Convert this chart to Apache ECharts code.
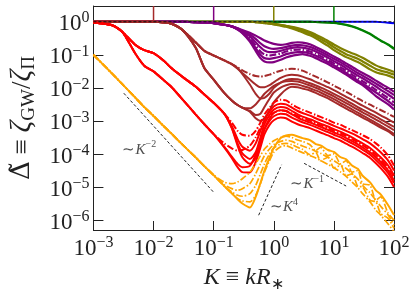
<!DOCTYPE html>
<html><head><meta charset="utf-8">
<script src="https://cdn.jsdelivr.net/npm/echarts@6/dist/echarts.min.js"></script>
<style>html,body{margin:0;padding:0;background:#fff}#c{width:416px;height:298px}</style>
</head><body><div id="c"></div>
<script>
// Shared K grid (K = k R_*)
const kGrid = [0.001,0.002,0.003,0.005,0.007,0.01,0.015,0.02,0.03,0.05,0.07,0.1,0.15,0.2,0.25,0.3,0.4,0.5,0.6,0.7,0.85,1,1.3,1.6,2,2.5,3,4,5,6,8,10,13,16,20,25,30,40,50,60,80,100];
// Values below are log10(Delta), one per kGrid point (segments joined by index)
const blueExp = [0,0,0,0,0,0,0,0,0,0,0,0,0,0,0,0,0,0,0,0,0,0,0,0,0,0,0,0,0,0,0,0,0,0,0,0,0,0,0,-0.01,-0.03,-0.05];
const greenFlat = [0,0,0,0,0,0,0,0,0,0,0,0,0,0,0,0,0,0,0,0,0,0,0,0,0,0,0,0];
const green1Tail = [-0.01,-0.015,-0.02,-0.03,-0.06,-0.09,-0.13,-0.19,-0.25,-0.36,-0.47,-0.56,-0.68,-0.8];
const green2Tail = [-0.01,-0.02,-0.03,-0.04,-0.07,-0.1,-0.15,-0.21,-0.27,-0.38,-0.49,-0.58,-0.7,-0.83];
const oliveFlat = [0,0,0,0,0,0,0,0,0,0,0,0,0,0,0,0,0];
const olive1Tail = [-0.01,-0.02,-0.03,-0.04,-0.06,-0.09,-0.12,-0.15,-0.19,-0.23,-0.31,-0.39,-0.46,-0.58,-0.69,-0.8,-0.88,-0.95,-1.02,-1.09,-1.22,-1.32,-1.38,-1.45,-1.52];
const olive2Tail = [-0.01,-0.02,-0.03,-0.05,-0.07,-0.1,-0.13,-0.17,-0.22,-0.27,-0.35,-0.44,-0.52,-0.65,-0.77,-0.89,-0.98,-1.05,-1.12,-1.2,-1.33,-1.43,-1.48,-1.54,-1.6];
const olive3Tail = [-0.01,-0.02,-0.04,-0.06,-0.08,-0.12,-0.15,-0.2,-0.26,-0.32,-0.41,-0.5,-0.59,-0.73,-0.86,-0.98,-1.07,-1.14,-1.22,-1.3,-1.44,-1.53,-1.57,-1.63,-1.7];
const purpleTrunk = [0,0,0,0,0,0,0,0,0,-0.01,-0.02,-0.04,-0.09,-0.14];
const purple1Tail = [-0.2,-0.25,-0.33,-0.42,-0.5,-0.57,-0.63,-0.67,-0.7,-0.68,-0.64,-0.62,-0.63,-0.68,-0.76,-0.83,-0.95,-1.05,-1.16,-1.26,-1.36,-1.47,-1.55,-1.67,-1.78,-1.87,-2.0,-2.12];
const purple2Tail = [-0.2,-0.27,-0.38,-0.52,-0.65,-0.74,-0.8,-0.82,-0.8,-0.76,-0.72,-0.7,-0.71,-0.76,-0.83,-0.9,-1.02,-1.12,-1.23,-1.33,-1.44,-1.55,-1.63,-1.76,-1.87,-1.96,-2.1,-2.22];
const purple3Tail = [-0.21,-0.29,-0.44,-0.62,-0.77,-0.87,-0.92,-0.92,-0.88,-0.83,-0.79,-0.77,-0.78,-0.83,-0.9,-0.97,-1.09,-1.19,-1.3,-1.41,-1.52,-1.63,-1.71,-1.85,-1.96,-2.06,-2.2,-2.33];
const purple4Tail = [-0.22,-0.31,-0.5,-0.72,-0.9,-0.99,-1.02,-1.0,-0.96,-0.9,-0.86,-0.84,-0.85,-0.9,-0.97,-1.04,-1.16,-1.26,-1.38,-1.48,-1.6,-1.71,-1.8,-1.94,-2.06,-2.16,-2.31,-2.44];
const purple5Tail = [-0.23,-0.33,-0.55,-0.8,-1.0,-1.1,-1.12,-1.1,-1.05,-0.98,-0.94,-0.92,-0.92,-0.96,-1.03,-1.1,-1.22,-1.32,-1.44,-1.55,-1.67,-1.78,-1.87,-2.02,-2.14,-2.24,-2.4,-2.54];
const purple6Tail = [-0.24,-0.35,-0.6,-0.88,-1.1,-1.2,-1.23,-1.22,-1.15,-1.08,-1.03,-1.0,-0.98,-1.03,-1.1,-1.17,-1.28,-1.38,-1.5,-1.6,-1.72,-1.83,-1.92,-2.1,-2.25,-2.35,-2.5,-2.65];
const brownTrunk = [0,0,0,0,0,0,-0.02,-0.06,-0.24];
const brownUpper = [-0.62,-0.88,-1.02,-1.17,-1.28];
const brownLower = [-0.78,-1.4,-1.75,-2.15,-2.38,-2.52,-2.6];
const brown1Tail = [-1.38,-1.47,-1.58,-1.64,-1.66,-1.64,-1.6,-1.55,-1.48,-1.44,-1.42,-1.44,-1.48,-1.58,-1.66,-1.73,-1.84,-1.93,-2.04,-2.12,-2.22,-2.32,-2.4,-2.51,-2.6,-2.67,-2.78,-2.88];
const brown2Tail = [-1.42,-1.55,-1.75,-1.9,-1.98,-1.98,-1.92,-1.83,-1.7,-1.63,-1.6,-1.62,-1.66,-1.74,-1.82,-1.88,-1.98,-2.07,-2.18,-2.27,-2.36,-2.46,-2.54,-2.66,-2.75,-2.83,-2.95,-3.05];
const brown3Tail = [-1.4,-1.58,-1.9,-2.18,-2.32,-2.3,-2.17,-2.0,-1.84,-1.76,-1.73,-1.74,-1.78,-1.86,-1.93,-1.99,-2.09,-2.18,-2.29,-2.38,-2.48,-2.58,-2.66,-2.78,-2.87,-2.95,-3.08,-3.18];
const brown4Tail = [-2.62,-2.5,-2.33,-2.18,-2.04,-1.94,-1.84,-1.8,-1.79,-1.81,-1.85,-1.93,-2.0,-2.06,-2.17,-2.26,-2.37,-2.46,-2.56,-2.66,-2.74,-2.86,-2.96,-3.04,-3.17,-3.28];
const brown5Tail = [-2.7,-2.82,-2.78,-2.58,-2.33,-2.14,-1.99,-1.92,-1.88,-1.9,-1.94,-2.01,-2.08,-2.14,-2.25,-2.34,-2.46,-2.55,-2.65,-2.75,-2.83,-2.96,-3.06,-3.14,-3.28,-3.4];
const brown6Tail = [-2.72,-2.92,-3.0,-2.92,-2.68,-2.44,-2.2,-2.05,-1.97,-1.98,-2.02,-2.08,-2.15,-2.22,-2.32,-2.42,-2.54,-2.63,-2.72,-2.82,-2.9,-3.02,-3.12,-3.2,-3.32,-3.45];
const redTrunk = [-0.02,-0.1,-0.3];
const redUpper = [-0.7,-0.86,-0.95,-1.19,-1.41,-1.66,-1.96,-2.2,-2.45,-2.78];
const redLower = [-0.97,-1.33,-1.5,-1.78,-1.98,-2.34,-2.8,-3.1,-3.4];
const red1Tail = [-3.05,-3.3,-3.42,-3.45,-3.3,-3.05,-2.8,-2.6,-2.45,-2.36,-2.38,-2.5,-2.6,-2.66,-2.75,-2.82,-2.88,-2.97,-3.05,-3.12,-3.2,-3.28,-3.36,-3.43,-3.55,-3.68,-3.8,-4.05,-4.35];
const red2Tail = [-3.15,-3.55,-3.78,-3.9,-3.68,-3.3,-2.98,-2.72,-2.56,-2.48,-2.5,-2.6,-2.7,-2.76,-2.84,-2.92,-2.98,-3.07,-3.15,-3.23,-3.3,-3.38,-3.47,-3.55,-3.68,-3.82,-3.95,-4.2,-4.5];
const red3Tail = [-3.2,-3.68,-3.98,-4.15,-3.95,-3.5,-3.1,-2.82,-2.66,-2.58,-2.6,-2.7,-2.8,-2.87,-2.95,-3.02,-3.08,-3.17,-3.25,-3.33,-3.41,-3.5,-3.6,-3.68,-3.82,-3.97,-4.1,-4.35,-4.65];
const red4Tail = [-3.22,-3.75,-4.1,-4.3,-4.12,-3.68,-3.25,-2.93,-2.76,-2.68,-2.7,-2.8,-2.9,-2.97,-3.05,-3.12,-3.18,-3.27,-3.35,-3.43,-3.52,-3.61,-3.71,-3.8,-3.95,-4.1,-4.24,-4.5,-4.8];
const red5Tail = [-3.68,-3.83,-3.9,-3.88,-3.75,-3.5,-3.2,-3.0,-2.85,-2.75,-2.68,-2.7,-2.78,-2.86,-2.92,-3.0,-3.07,-3.13,-3.22,-3.3,-3.38,-3.46,-3.55,-3.65,-3.73,-3.88,-4.03,-4.17,-4.42,-4.7];
const red6Tail = [-3.78,-4.08,-4.3,-4.4,-4.36,-4.02,-3.6,-3.25,-3.0,-2.86,-2.78,-2.8,-2.9,-2.98,-3.04,-3.12,-3.19,-3.25,-3.34,-3.42,-3.5,-3.59,-3.68,-3.78,-3.87,-4.02,-4.18,-4.32,-4.58,-4.88];
const red7Tail = [-3.8,-4.12,-4.4,-4.55,-4.56,-4.25,-3.8,-3.4,-3.12,-2.98,-2.9,-2.92,-3.02,-3.1,-3.15,-3.22,-3.29,-3.35,-3.44,-3.52,-3.6,-3.69,-3.78,-3.88,-3.97,-4.12,-4.28,-4.43,-4.7,-5.0];
const orangeSolid = [-1.0,-1.55,-1.88,-2.3,-2.58,-2.85,-3.17,-3.39,-3.71,-4.1,-4.37,-4.64,-4.97,-5.19,-5.37,-5.5,-5.62,-5.3,-4.88,-4.5,-4.12,-3.82,-3.52,-3.44,-3.42,-3.47,-3.52,-3.58,-3.7,-3.74,-3.88,-3.94,-4.1,-4.16,-4.35,-4.45,-4.66,-4.86,-5.1,-5.22,-5.55,-5.85];
const orange2Tail = [-4.85,-4.9,-4.85,-4.75,-4.55,-4.3,-4.05,-3.85,-3.7,-3.6,-3.5,-3.46,-3.5,-3.58,-3.62,-3.72,-3.9,-3.8,-4.05,-4.0,-4.3,-4.2,-4.55,-4.5,-4.9,-4.95,-5.4,-5.3,-5.8,-6.0];
const orange3Tail = [-4.93,-5.05,-5.1,-5.05,-4.9,-4.6,-4.3,-4.05,-3.85,-3.72,-3.62,-3.58,-3.62,-3.7,-3.76,-3.84,-3.92,-3.98,-4.1,-4.2,-4.34,-4.44,-4.6,-4.76,-4.95,-5.18,-5.4,-5.58,-5.85,-6.15];
const orange4Tail = [-5.15,-5.25,-5.28,-5.2,-4.95,-4.6,-4.3,-4.0,-3.82,-3.7,-3.68,-3.72,-3.8,-3.86,-4.02,-3.96,-4.2,-4.1,-4.42,-4.35,-4.66,-4.6,-4.98,-5.0,-5.4,-5.45,-5.8,-5.95,-6.25];
const orange5Tail = [-5.35,-5.42,-5.45,-5.25,-4.9,-4.55,-4.2,-3.95,-3.78,-3.75,-3.82,-3.9,-3.96,-4.05,-4.12,-4.2,-4.32,-4.42,-4.55,-4.68,-4.85,-5.02,-5.2,-5.45,-5.7,-5.85,-6.12,-6.35];
// Guide lines [K start, K end] and [Delta start, Delta end]
const guideM2K = [0.0032, 0.098], guideM2D = [6.9e-3, 7.2e-6];
const guideP4K = [0.56, 1.35], guideP4D = [1.4e-6, 4.7e-5];
const guideM1K = [3.2, 16], guideM1D = [5.2e-5, 1.07e-5];
const unityK = [0.001, 100], unityD = [1, 1];
// Coloured markers at top (K positions)
const markerK = [0.01, 0.1, 1, 10];
const markerColors = ['#a52a2a', '#800080', '#808000', '#008000'];
// Annotation labels
const annTexts = ['{t|∼}{i|K}{s|−2}', '{t|∼}{i|K}{s|4}', '{t|∼}{i|K}{s|−1}'];
const annK = [0.0058, 1.48, 3.6];
const annD = [1.35e-4, 2.4e-6, 1.23e-5];
// Axis ranges
const xRange = [0.001, 100];
const yRange = [5e-7, 3];

const C = {orange:'#ffa500', red:'#ff0000', brown:'#a52a2a', purple:'#800080', olive:'#808000', green:'#008000', blue:'#0000ff'};
const DASHDOT = [7, 2, 1.5, 2];
const FONT = 'Liberation Serif';

function curve(exps, color, width, dash) {
  const data = [];
  kGrid.forEach((k, i) => { if (exps[i] != null) data.push([k, Math.pow(10, exps[i])]); });
  return {type:'line', data, showSymbol:false, symbol:'none', smooth:0.25, silent:true, animation:false, clip:true,
    lineStyle:{color, width, type: dash || 'solid'}};
}
function seg(xs, ys, style) {
  return {type:'line', data:[[xs[0], ys[0]], [xs[1], ys[1]]], showSymbol:false, symbol:'none', silent:true, animation:false, clip:true, lineStyle:style, z:5};
}
const series = [];
series.push(curve(blueExp, C.blue, 1.8));
series.push(curve(greenFlat.concat(green2Tail), C.green, 1.8));
series.push(curve(greenFlat.concat(green1Tail), C.green, 1.8));
series.push(curve(oliveFlat.concat(olive3Tail), C.olive, 2.2));
series.push(curve(oliveFlat.concat(olive2Tail), C.olive, 2.2));
series.push(curve(oliveFlat.concat(olive1Tail), C.olive, 2.2));
[purple6Tail, purple5Tail, purple4Tail, purple3Tail, purple2Tail, purple1Tail].forEach((t, j) =>
  series.push(curve(purpleTrunk.concat(t), C.purple, 2.2, (j === 2) ? DASHDOT : 'solid')));
[[brownLower, brown6Tail, 'solid'], [brownLower, brown5Tail, 'solid'], [brownLower, brown4Tail, 'solid'],
 [brownUpper, brown3Tail, 'solid'], [brownUpper, brown2Tail, 'solid'], [brownUpper, brown1Tail, DASHDOT]].forEach(([b, t, d]) =>
  series.push(curve(brownTrunk.concat(b, t), C.brown, 2, d)));
[[redLower, red7Tail, 'solid'], [redLower, red6Tail, 'solid'], [redLower, red5Tail, DASHDOT],
 [redUpper, red4Tail, 'solid'], [redUpper, red3Tail, 'solid'], [redUpper, red2Tail, 'solid'], [redUpper, red1Tail, DASHDOT]].forEach(([b, t, d]) =>
  series.push(curve(redTrunk.concat(b, t), C.red, 2, d)));
series.push(curve(orangeSolid.slice(0, 14).concat(orange5Tail), C.orange, 1.7, DASHDOT));
series.push(curve(orangeSolid.slice(0, 13).concat(orange4Tail), C.orange, 1.7, DASHDOT));
series.push(curve(orangeSolid.slice(0, 12).concat(orange3Tail), C.orange, 1.7, DASHDOT));
series.push(curve(orangeSolid.slice(0, 12).concat(orange2Tail), C.orange, 1.7, DASHDOT));
series.push(curve(orangeSolid, C.orange, 2));
markerK.forEach((k, i) => series.push(seg([k, k], [1, yRange[1]], {color: markerColors[i], width: 1.5})));
series.push(seg(unityK, unityD, {color:'#111', width:1.2, type:[3, 2]}));
series.push(seg(guideM2K, guideM2D, {color:'#222', width:1, type:[3, 2]}));
series.push(seg(guideP4K, guideP4D, {color:'#222', width:1, type:[3, 2]}));
series.push(seg(guideM1K, guideM1D, {color:'#222', width:1, type:[3, 2]}));
series.push({type:'scatter', symbolSize:0, silent:true, animation:false, z:6,
  data: annK.map((k, i) => ({value:[k, annD[i]], label:{formatter: annTexts[i]}})),
  label:{show:true, position:'inside', color:'#222',
    rich:{t:{fontFamily:FONT, fontSize:15, lineHeight:20}, i:{fontFamily:FONT, fontStyle:'italic', fontSize:15, lineHeight:20},
          s:{fontFamily:FONT, fontSize:10, lineHeight:10, verticalAlign:'top'}}}});

function powLabel(v) {
  const e = Math.log10(v), n = Math.round(e);
  if (Math.abs(e - n) > 1e-6) return '';
  return '{b|10}{s|' + (n < 0 ? '\u2212' + (-n) : String(n)) + '}';
}
const tickRich = {b:{fontFamily:FONT, fontSize:23, lineHeight:28, color:'#222'}, s:{fontFamily:FONT, fontSize:16, lineHeight:16, verticalAlign:'top', color:'#222'}};
const lineSt = {color:'#222', width:1};

const option = {
  backgroundColor:'#fff', animation:false,
  grid:{left:85, right:22, top:6, bottom:63},
  xAxis:[
    {type:'log', logBase:10, min:xRange[0], max:xRange[1], position:'bottom',
     axisLine:{show:true, onZero:false, lineStyle:lineSt}, axisTick:{show:true, inside:true, length:9, lineStyle:lineSt},
     minorTick:{show:false}, splitLine:{show:false},
     axisLabel:{formatter:powLabel, margin:5, rich:tickRich},
     name:'{i|K}{t| ≡ }{i|kR}{s|∗}', nameLocation:'middle', nameGap:33,
     nameTextStyle:{color:'#222', rich:{i:{fontFamily:FONT, fontStyle:'italic', fontSize:24, lineHeight:30}, t:{fontFamily:FONT, fontSize:24, lineHeight:30}, s:{fontFamily:FONT, fontSize:16, lineHeight:16, verticalAlign:'bottom'}}}},
    {type:'log', logBase:10, min:xRange[0], max:xRange[1], position:'top',
     axisLine:{show:true, onZero:false, lineStyle:lineSt}, axisTick:{show:false}, axisLabel:{show:false}, splitLine:{show:false}}
  ],
  yAxis:[
    {type:'log', logBase:10, min:yRange[0], max:yRange[1], position:'left',
     axisLine:{show:true, onZero:false, lineStyle:lineSt}, axisTick:{show:true, inside:true, length:10, lineStyle:lineSt},
     minorTick:{show:false}, splitLine:{show:false},
     axisLabel:{formatter:powLabel, margin:4, rich:tickRich, showMinLabel:false, showMaxLabel:false, padding:[5,0,0,0]},
     name:'{d|Δ̃}{t| ≡ }{z|ζ}{g|GW}{t|/}{z|ζ}{g|Π}', nameLocation:'middle', nameRotate:90, nameGap:54,
     nameTextStyle:{color:'#222', rich:{d:{fontFamily:'DejaVu Serif', fontSize:26, lineHeight:32}, t:{fontFamily:FONT, fontSize:27, lineHeight:32},
       z:{fontFamily:FONT, fontStyle:'italic', fontSize:29, lineHeight:32}, g:{fontFamily:FONT, fontSize:19, lineHeight:19, verticalAlign:'bottom'}}}},
    {type:'log', logBase:10, min:yRange[0], max:yRange[1], position:'right',
     axisLine:{show:true, onZero:false, lineStyle:lineSt}, axisTick:{show:true, inside:true, length:10, lineStyle:lineSt},
     minorTick:{show:false}, splitLine:{show:false}, axisLabel:{show:false}}
  ],
  series
};
const chart = echarts.init(document.getElementById('c'), null, {renderer:'canvas'});
chart.setOption(option);
</script></body></html>
